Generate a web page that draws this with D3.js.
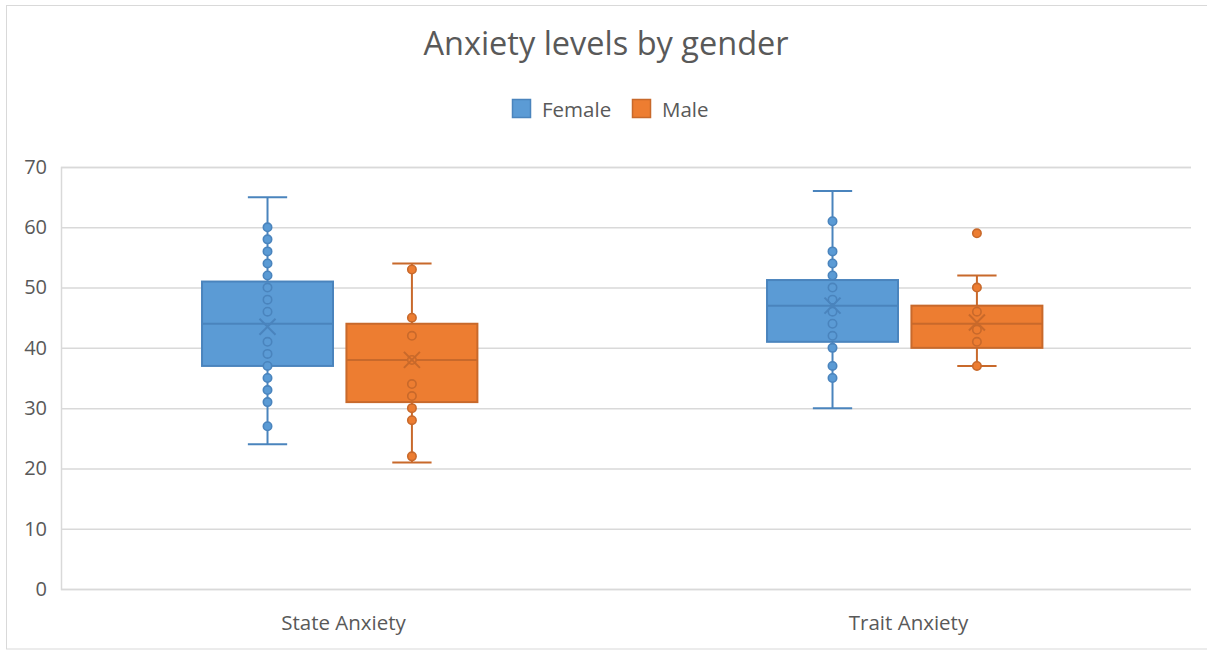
<!DOCTYPE html>
<html>
<head>
<meta charset="utf-8">
<script src="https://cdn.jsdelivr.net/npm/d3@7"></script>
<style>
  html, body { margin: 0; padding: 0; background: #fff; }
  svg { display: block; }
  text { font-family: "Open Sans", "Noto Sans", sans-serif; fill: #595959; }
</style>
</head>
<body>
<svg id="chart" width="1207" height="650"></svg>
<script>
// Categories, series and tick labels
const categories = ["State Anxiety", "Trait Anxiety"];
const seriesNames = ["Female", "Male"];
const yTicks = [0, 10, 20, 30, 40, 50, 60, 70];

// Box statistics per series, in category order
const femaleMin    = [24, 30];
const femaleQ1     = [37, 41];
const femaleMedian = [44, 47];
const femaleQ3     = [51, 51.25];
const femaleMax    = [65, 66];
const femaleMean   = [43.5, 47];

const maleMin    = [21, 37];
const maleQ1     = [31, 40];
const maleMedian = [38, 44];
const maleQ3     = [44, 47];
const maleMax    = [54, 52];
const maleMean   = [38, 44.2];

// Individual points shown on each box (inner points and outliers)
const femaleStatePoints = [60, 58, 56, 54, 52, 50, 48, 46, 41, 39, 37, 35, 33, 31, 27];
const femaleTraitPoints = [61, 56, 54, 52, 50, 48, 46, 44, 42, 40, 37, 35];
const maleStatePoints   = [53, 45, 42, 38, 34, 32, 30, 28, 22];
const maleTraitPoints   = [59, 50, 46, 43, 41, 37];

const colors  = { Female: "#5B9BD5", Male: "#ED7D31" };
const strokes = { Female: "#4A84BD", Male: "#C8692B" };

const boxes = [];
categories.forEach((cat, i) => {
  boxes.push({ cat, series: "Female", min: femaleMin[i], q1: femaleQ1[i], median: femaleMedian[i],
    q3: femaleQ3[i], max: femaleMax[i], mean: femaleMean[i],
    points: i === 0 ? femaleStatePoints : femaleTraitPoints });
  boxes.push({ cat, series: "Male", min: maleMin[i], q1: maleQ1[i], median: maleMedian[i],
    q3: maleQ3[i], max: maleMax[i], mean: maleMean[i],
    points: i === 0 ? maleStatePoints : maleTraitPoints });
});

const svg = d3.select("#chart");
const W = 1207, H = 650;
const plot = { left: 61, right: 1191, top: 167, bottom: 589 };

// Chart area border
svg.append("rect")
  .attr("x", 6.5).attr("y", 5.5)
  .attr("width", W + 10).attr("height", H - 6.5)
  .attr("fill", "#fff").attr("stroke", "#D9D9D9").attr("stroke-width", 1);

const x0 = d3.scaleBand().domain(categories).range([plot.left, plot.right]).padding(0);
const bw = x0.bandwidth();
const x1 = d3.scaleBand().domain(seriesNames)
  .range([bw * 0.2496, bw * 0.7370]).paddingInner(0.093).paddingOuter(0);
const y = d3.scaleLinear().domain([0, 70]).range([plot.bottom, plot.top]);

// Gridlines and value axis
const yAxis = d3.axisLeft(y).tickValues(yTicks).tickSize(-(plot.right - plot.left)).tickPadding(14);
const gy = svg.append("g").attr("transform", `translate(${plot.left},0)`).call(yAxis);
gy.select(".domain").attr("stroke", "#D9D9D9").attr("stroke-width", 1.5);
gy.selectAll(".tick line").attr("stroke", "#D9D9D9").attr("stroke-width", 1.5);
gy.selectAll(".tick text")
  .style("font-size", "20px").style("fill", "#595959")
  .attr("font-family", null);

// Category labels
const xAxis = d3.axisBottom(x0).tickSize(0).tickPadding(26);
const gx = svg.append("g").attr("transform", `translate(0,${plot.bottom})`).call(xAxis);
gx.select(".domain").remove();
gx.selectAll(".tick text").style("font-size", "20.5px").style("fill", "#595959")
  .attr("font-family", null);

// Boxes
const g = svg.append("g");
boxes.forEach(b => {
  const bx = x0(b.cat) + x1(b.series);
  const w = x1.bandwidth();
  const cx = bx + w / 2;
  const fill = colors[b.series], st = strokes[b.series];
  const capHalf = w * 0.15;

  // whiskers
  g.append("line").attr("x1", cx).attr("x2", cx).attr("y1", y(b.max)).attr("y2", y(b.q3))
    .attr("stroke", st).attr("stroke-width", 2);
  g.append("line").attr("x1", cx).attr("x2", cx).attr("y1", y(b.q1)).attr("y2", y(b.min))
    .attr("stroke", st).attr("stroke-width", 2);
  [b.max, b.min].forEach(v => {
    g.append("line").attr("x1", cx - capHalf).attr("x2", cx + capHalf)
      .attr("y1", y(v)).attr("y2", y(v)).attr("stroke", st).attr("stroke-width", 2);
  });

  // box
  g.append("rect").attr("x", bx).attr("y", y(b.q3))
    .attr("width", w).attr("height", y(b.q1) - y(b.q3))
    .attr("fill", fill).attr("stroke", st).attr("stroke-width", 2);
  // median
  g.append("line").attr("x1", bx).attr("x2", bx + w)
    .attr("y1", y(b.median)).attr("y2", y(b.median))
    .attr("stroke", st).attr("stroke-width", 2);

  // points
  g.selectAll(null).data(b.points).enter().append("circle")
    .attr("cx", cx).attr("cy", d => y(d)).attr("r", 4.2)
    .attr("fill", fill).attr("stroke", st).attr("stroke-width", 1.6);

  // mean marker
  const m = 8, my = y(b.mean);
  g.append("path")
    .attr("d", `M${cx - m},${my - m}L${cx + m},${my + m}M${cx - m},${my + m}L${cx + m},${my - m}`)
    .attr("stroke", st).attr("stroke-width", 2).attr("fill", "none");
});

// Title
svg.append("text").attr("x", 606).attr("y", 55).attr("text-anchor", "middle")
  .style("font-size", "32.5px").style("fill", "#595959").text("Anxiety levels by gender");

// Legend
const legend = svg.append("g");
const legendItems = [{ name: "Female", x: 512 }, { name: "Male", x: 632 }];
legendItems.forEach(it => {
  legend.append("rect").attr("x", it.x + 0.5).attr("y", 99.5).attr("width", 18).attr("height", 18)
    .attr("fill", colors[it.name]).attr("stroke", strokes[it.name]).attr("stroke-width", 1.5);
  legend.append("text").attr("x", it.x + 30).attr("y", 116.5)
    .style("font-size", "20.5px").style("fill", "#595959").text(it.name);
});
</script>
</body>
</html>
